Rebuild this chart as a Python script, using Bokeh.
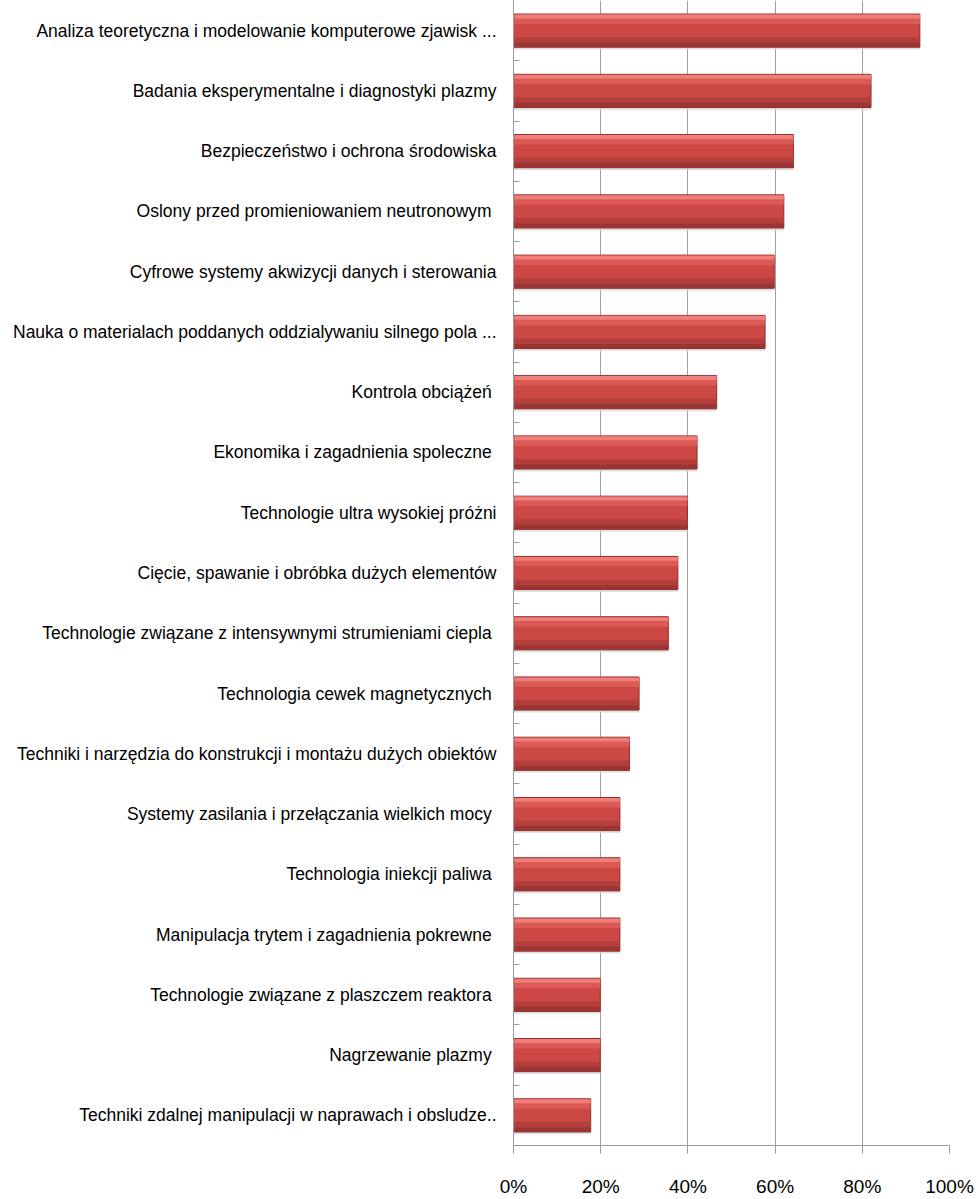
from bokeh.plotting import figure
from bokeh.models import Range1d, FixedTicker, ColumnDataSource, NumeralTickFormatter
from bokeh.transform import dodge
from bokeh.embed import file_html
from bokeh.resources import INLINE

categories = [
    "Analiza teoretyczna i modelowanie komputerowe zjawisk ...",
    "Badania eksperymentalne i diagnostyki plazmy",
    "Bezpieczeństwo i ochrona środowiska",
    "Oslony przed promieniowaniem neutronowym ",
    "Cyfrowe systemy akwizycji danych i sterowania",
    "Nauka o materialach poddanych oddzialywaniu silnego pola ...",
    "Kontrola obciążeń ",
    "Ekonomika i zagadnienia spoleczne ",
    "Technologie ultra wysokiej próżni",
    "Cięcie, spawanie i obróbka dużych elementów",
    "Technologie związane z intensywnymi strumieniami ciepla ",
    "Technologia cewek magnetycznych ",
    "Techniki i narzędzia do konstrukcji i montażu dużych obiektów",
    "Systemy zasilania i przełączania wielkich mocy ",
    "Technologia iniekcji paliwa ",
    "Manipulacja trytem i zagadnienia pokrewne ",
    "Technologie związane z plaszczem reaktora ",
    "Nagrzewanie plazmy ",
    "Techniki zdalnej manipulacji w naprawach i obsludze..",
]
values = [0.932, 0.820, 0.642, 0.620, 0.598, 0.577, 0.466, 0.421, 0.399,
          0.377, 0.355, 0.288, 0.266, 0.244, 0.244, 0.244, 0.199, 0.199, 0.177]
x_ticks = [0, 0.2, 0.4, 0.6, 0.8, 1.0]

n = len(categories)
ypos = [n - 1 - i for i in range(n)]
src = ColumnDataSource(dict(y=ypos, v=values, cat=categories))

FONT = "'Liberation Sans', Arial, sans-serif"

p = figure(frame_width=436, frame_height=1145, output_backend="svg", toolbar_location=None,
           x_range=Range1d(0, 1.0), y_range=Range1d(-0.5, n - 0.5),
           min_border_left=513, min_border_right=27, min_border_top=0,
           min_border_bottom=54)
p.outline_line_color = None
p.background_fill_color = "white"
p.border_fill_color = "white"

# shadow
p.hbar(y=dodge("y", -0.04), left=0, right="v", height=0.55, source=src,
       fill_color="#d9d9d9", line_color=None, fill_alpha=0.8)
# main bar
p.hbar(y="y", left=0, right="v", height=0.55, source=src,
       fill_color="#cc4845", line_color="#8e2b28", line_width=1)
# lower darker bands
p.hbar(y=dodge("y", -0.16), left=0.002, right="v", height=0.1, source=src,
       fill_color="#b23f3c", line_color=None)
p.hbar(y=dodge("y", -0.235), left=0.002, right="v", height=0.07, source=src,
       fill_color="#9a3533", line_color=None)
# upper highlight bands
p.hbar(y=dodge("y", 0.17), left=0.002, right="v", height=0.12, source=src,
       fill_color="#dc5a56", line_color=None)
p.hbar(y=dodge("y", 0.235), left=0.002, right="v", height=0.065, source=src,
       fill_color="#ee7f7b", line_color=None)

# x axis
p.xaxis.ticker = FixedTicker(ticks=x_ticks)
p.xaxis.formatter = NumeralTickFormatter(format="0%")
p.xaxis.axis_line_color = "#999999"
p.xaxis.major_tick_line_color = "#999999"
p.xaxis.major_tick_out = 8
p.xaxis.major_tick_in = 0
p.xaxis.minor_tick_line_color = None
p.xaxis.major_label_text_font = FONT
p.xaxis.major_label_text_font_size = "19px"
p.xaxis.major_label_text_color = "#000000"
p.xaxis.major_label_standoff = 22

# y axis
p.yaxis.ticker = FixedTicker(ticks=ypos, minor_ticks=[y + 0.5 for y in ypos[1:]])
p.yaxis.major_label_overrides = {y: c for y, c in zip(ypos, categories)}
p.yaxis.axis_line_color = "#999999"
p.yaxis.major_tick_line_color = None
p.yaxis.minor_tick_line_color = "#999999"
p.yaxis.minor_tick_in = 6
p.yaxis.minor_tick_out = 0
p.yaxis.major_label_text_font = FONT
p.yaxis.major_label_text_font_size = "17.5px"
p.yaxis.major_label_text_color = "#000000"
p.yaxis.major_label_standoff = 11

p.ygrid.grid_line_color = None
p.xgrid.grid_line_color = "#a0a0a0"
p.xgrid.grid_line_width = 1
p.xgrid.bounds = (-0.5, n - 0.5 - 14 / 60.26)

open("out.html", "w").write(file_html(p, INLINE))
